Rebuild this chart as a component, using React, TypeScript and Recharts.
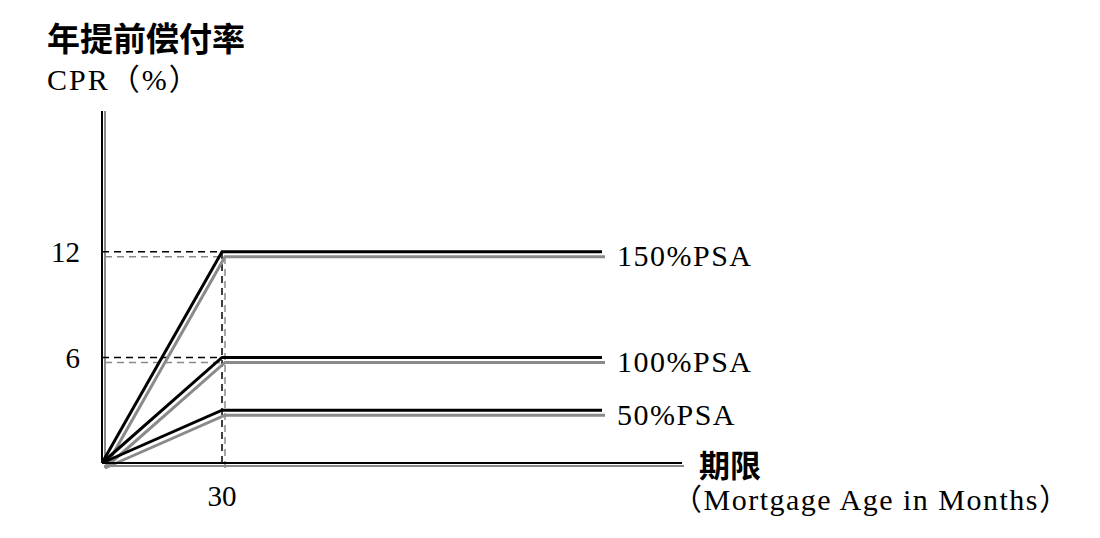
import React from 'react';
import { LineChart, Line, XAxis, YAxis, ReferenceLine, ReferenceDot } from 'recharts';

// months on the x axis and CPR (%) for each PSA speed
const months = [0, 30, 125];
const psa150 = [0, 12, 12];
const psa100 = [0, 6, 6];
const psa50 = [0, 3, 3];
const seriesNames = ['150%PSA', '100%PSA', '50%PSA'];
const xTicks = [30];
const yTicks = [6, 12];

const data = months.map((m, i) => ({ month: m, p150: psa150[i], p100: psa100[i], p50: psa50[i] }));
const keys = ['p150', 'p100', 'p50'];
const series = [psa150, psa100, psa50];
const last = months.length - 1;

const serif = '"Liberation Serif", "Times New Roman", "Noto Sans CJK SC", serif';
const cjk = '"Noto Sans CJK SC", sans-serif';
const GRAY = '#8a8a8a';

const css = `
body { margin: 0; }
.shadow-line { transform: translate(3px, 5px); }
.shadow-x { transform: translate(2px, 3px); }
.shadow-y { transform: translate(3px, 0px); }
`;

export default function App() {
  return (
    <div style={{ position: 'relative', width: 1100, height: 538, background: '#fff' }}>
      <style>{css}</style>
      <div style={{ position: 'absolute', left: 47, top: 21, fontFamily: cjk, fontWeight: 700, fontSize: 33, lineHeight: 1 }}>
        年提前偿付率
      </div>
      <div style={{ position: 'absolute', left: 47, top: 65, fontFamily: serif, fontSize: 30, letterSpacing: 2, lineHeight: 1 }}>
        CPR（%）
      </div>
      <div style={{ position: 'absolute', left: 699, top: 448, fontFamily: cjk, fontWeight: 700, fontSize: 31, lineHeight: 1 }}>
        期限
      </div>
      <div style={{ position: 'absolute', left: 672, top: 485, fontFamily: serif, fontSize: 30, letterSpacing: 1.5, lineHeight: 1 }}>
        （Mortgage Age in Months）
      </div>
      <LineChart
        width={1100}
        height={538}
        data={data}
        margin={{ top: 111, right: 418, left: 52, bottom: 35 }}
        style={{ position: 'absolute', left: 0, top: 0 }}
      >
        <XAxis
          dataKey="month"
          type="number"
          domain={[0, 145]}
          ticks={xTicks}
          height={40}
          axisLine={{ stroke: '#000', strokeWidth: 2 }}
          tickLine={false}
          tickSize={0}
          tickMargin={22}
          tick={{ fill: '#000', fontSize: 29, fontFamily: serif }}
        />
        <YAxis
          type="number"
          domain={[0, 20]}
          ticks={yTicks}
          width={50}
          axisLine={{ stroke: '#000', strokeWidth: 2 }}
          tickLine={false}
          tickSize={0}
          tickMargin={22}
          tick={{ fill: '#000', fontSize: 29, fontFamily: serif }}
        />
        <ReferenceLine y={0} stroke={GRAY} strokeWidth={2} className="shadow-x" />
        <ReferenceLine x={0} stroke={GRAY} strokeWidth={2} className="shadow-y" />
        {[12, 6].map((v) => (
          <ReferenceLine
            key={'gh' + v}
            segment={[{ x: 0, y: v }, { x: 30, y: v }]}
            stroke={GRAY}
            strokeWidth={1.5}
            strokeDasharray="7 5"
            className="shadow-line"
          />
        ))}
        <ReferenceLine
          segment={[{ x: 30, y: 0 }, { x: 30, y: 12 }]}
          stroke={GRAY}
          strokeWidth={1.5}
          strokeDasharray="7 5"
          className="shadow-line"
        />
        {[12, 6].map((v) => (
          <ReferenceLine
            key={'bh' + v}
            segment={[{ x: 0, y: v }, { x: 30, y: v }]}
            stroke="#000"
            strokeWidth={1.5}
            strokeDasharray="7 5"
          />
        ))}
        <ReferenceLine
          segment={[{ x: 30, y: 0 }, { x: 30, y: 12 }]}
          stroke="#000"
          strokeWidth={1.5}
          strokeDasharray="7 5"
        />
        {keys.map((k) => (
          <Line
            key={'g' + k}
            dataKey={k}
            type="linear"
            stroke={GRAY}
            strokeWidth={3}
            dot={false}
            activeDot={false}
            className="shadow-line"
            isAnimationActive={false}
          />
        ))}
        {keys.map((k) => (
          <Line
            key={'b' + k}
            dataKey={k}
            type="linear"
            stroke="#000"
            strokeWidth={3}
            dot={false}
            activeDot={false}
            isAnimationActive={false}
          />
        ))}
        {series.map((s, i) => (
          <ReferenceDot
            key={'lbl' + i}
            x={months[last]}
            y={s[last]}
            r={0}
            stroke="none"
            fill="none"
            label={{
              value: seriesNames[i],
              position: 'right',
              offset: 15,
              dy: 4,
              fill: '#000',
              fontSize: 30,
              letterSpacing: 1.5,
              fontFamily: serif,
            }}
          />
        ))}
      </LineChart>
    </div>
  );
}
